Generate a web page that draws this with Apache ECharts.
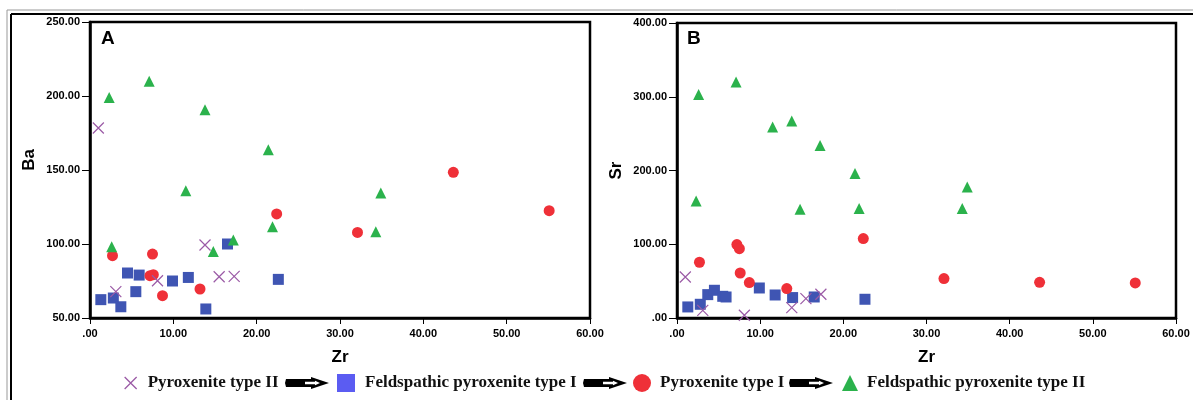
<!DOCTYPE html>
<html>
<head>
<meta charset="utf-8">
<script src="https://cdn.jsdelivr.net/npm/echarts@6/dist/echarts.min.js"></script>
<style>
html,body{margin:0;padding:0;background:#fff;}
#c{width:1193px;height:400px;}
</style>
</head>
<body>
<div id="c"></div>
<script>
// ---- Data ----
const seriesNames = ['Pyroxenite type II', 'Feldspathic pyroxenite type I', 'Pyroxenite type I', 'Feldspathic pyroxenite type II'];

// Pyroxenite type II (crosses)
const zrPxII = [1.0, 3.1, 8.1, 13.8, 15.5, 17.3];
const baPxII = [178.4, 67.8, 75.2, 99.3, 77.9, 78.1];
const srPxII = [55.6, 10.4, 3.7, 14.1, 26.3, 32.2];

// Feldspathic pyroxenite type I (squares)
const zrFpI = [1.3, 2.8, 3.7, 4.5, 5.5, 5.9, 9.9, 11.8, 13.9, 16.5, 22.6];
const baFpI = [62.4, 63.5, 57.6, 80.4, 67.8, 79.0, 75.0, 77.4, 56.1, 100.0, 76.1];
const srFpI = [15.0, 18.6, 31.7, 37.6, 29.4, 28.5, 40.7, 31.2, 27.7, 28.5, 25.4];

// Pyroxenite type I (circles)
const zrPxI = [2.7, 7.2, 7.5, 7.6, 8.7, 13.2, 22.4, 32.1, 43.6, 55.1];
const baPxI = [92.1, 78.6, 93.2, 79.3, 65.1, 69.6, 120.3, 107.8, 148.4, 122.5];
const srPxI = [75.6, 99.6, 94.0, 61.0, 48.0, 39.9, 107.7, 53.4, 48.4, 47.5];

// Feldspathic pyroxenite type II (triangles)
const zrFpII = [2.3, 2.6, 7.1, 11.5, 13.8, 14.8, 17.2, 21.4, 21.9, 34.3, 34.9];
const baFpII = [199.0, 98.2, 210.0, 136.0, 190.7, 95.0, 102.7, 163.7, 111.7, 108.3, 134.5];
const srFpII = [158.7, 303.0, 320.0, 259.0, 267.0, 147.5, 234.0, 196.0, 148.4, 148.4, 177.7];

const xTicks = [0, 10, 20, 30, 40, 50, 60];
const baTicks = [50, 100, 150, 200, 250];
const srTicks = [0, 100, 200, 300, 400];

// ---- Styling ----
const COL_X = '#9b5aa6', COL_SQ = '#3f55b3', COL_CI = '#ef3038', COL_TR = '#2bb24c';
const crossPath = 'path://M0,0L10,10M10,0L0,10';
const fmt = v => v === 0 ? '.00' : v.toFixed(2);
const tickFont = {fontFamily: '"Liberation Sans", Arial, sans-serif', fontWeight: 'bold', fontSize: 11, color: '#000'};
const nameFont = {fontFamily: '"Liberation Sans", Arial, sans-serif', fontWeight: 'bold', fontSize: 17, color: '#000'};

function zip(a, b) { return a.map((v, i) => [v, b[i]]); }

function xAxisDef(gi) {
  return {
    gridIndex: gi, type: 'value', min: xTicks[0], max: xTicks[xTicks.length - 1], interval: 10,
    name: 'Zr', nameLocation: 'middle', nameGap: 31, nameTextStyle: nameFont,
    axisLine: {show: true, lineStyle: {color: '#000', width: 2.5}},
    axisTick: {show: true, length: 6, lineStyle: {color: '#000', width: 1}},
    axisLabel: Object.assign({formatter: fmt, margin: 10}, tickFont),
    splitLine: {show: false}
  };
}
function yAxisDef(gi, ticks, name, gap, pad) {
  return {
    gridIndex: gi, type: 'value', min: ticks[0], max: ticks[ticks.length - 1], interval: ticks[1] - ticks[0],
    name: name, nameLocation: 'middle', nameGap: gap, nameRotate: 90,
    nameTextStyle: Object.assign({padding: pad}, nameFont),
    axisLine: {show: true, lineStyle: {color: '#000', width: 2.5}},
    axisTick: {show: true, length: 8, lineStyle: {color: '#000', width: 1}},
    axisLabel: Object.assign({formatter: fmt, margin: 10}, tickFont),
    splitLine: {show: false}
  };
}

function groupSeries(gi, yArrs) {
  return [
    {name: seriesNames[0], type: 'scatter', xAxisIndex: gi, yAxisIndex: gi, data: zip(zrPxII, yArrs[0]),
     symbol: crossPath, symbolSize: 11, itemStyle: {color: 'rgba(0,0,0,0)', borderColor: COL_X, borderWidth: 1.2, opacity: 1}, z: 3},
    {name: seriesNames[1], type: 'scatter', xAxisIndex: gi, yAxisIndex: gi, data: zip(zrFpI, yArrs[1]),
     symbol: 'rect', symbolSize: 11, itemStyle: {color: COL_SQ, opacity: 1}, z: 2},
    {name: seriesNames[2], type: 'scatter', xAxisIndex: gi, yAxisIndex: gi, data: zip(zrPxI, yArrs[2]),
     symbol: 'circle', symbolSize: 11, itemStyle: {color: COL_CI, opacity: 1}, z: 2},
    {name: seriesNames[3], type: 'scatter', xAxisIndex: gi, yAxisIndex: gi, data: zip(zrFpII, yArrs[3]),
     symbol: 'triangle', symbolSize: 11, itemStyle: {color: COL_TR, opacity: 1}, z: 2}
  ];
}

const legendFont = {fontFamily: '"Liberation Serif", "Times New Roman", serif', fontWeight: 'bold', fontSize: 17, color: '#111'};
function legendDef(i, left, icon, size, color, border, textPad) {
  return {
    left: left, top: 373, orient: 'horizontal', selectedMode: false, padding: 0,
    itemWidth: size, itemHeight: size, itemGap: 0,
    textStyle: Object.assign({padding: [0, 0, 0, textPad], lineHeight: 20}, legendFont),
    data: [{name: seriesNames[i], icon: icon,
            itemStyle: border ? {color: 'rgba(0,0,0,0)', borderColor: color, borderWidth: 1.3, opacity: 1} : {color: color, opacity: 1}}]
  };
}

function arrow(x, y) {
  // decorative black arrow between legend items
  return {
    type: 'group', left: x, top: y, silent: true,
    children: [
      {type: 'polygon', shape: {points: [[1, 1], [26, 1], [26, -1], [44, 5], [26, 11], [26, 9], [1, 9], [0, 5]]},
       style: {fill: '#000'}},
      {type: 'polygon', shape: {points: [[20, 3.8], [30, 3.8], [30, 2.8], [35, 5], [30, 7.2], [30, 6.2], [20, 6.2]]},
       style: {fill: '#fff'}}
    ]
  };
}

const chart = echarts.init(document.getElementById('c'), null, {renderer: 'canvas'});
chart.setOption({
  backgroundColor: '#fff',
  animation: false,
  grid: [
    {left: 90, top: 22, width: 500, height: 296, show: true, borderColor: '#000', borderWidth: 2.5, backgroundColor: '#fff'},
    {left: 677, top: 23, width: 499, height: 295, show: true, borderColor: '#000', borderWidth: 2.5, backgroundColor: '#fff'}
  ],
  xAxis: [xAxisDef(0), xAxisDef(1)],
  yAxis: [yAxisDef(0, baTicks, 'Ba', 52, [0, 0, 0, 20]), yAxisDef(1, srTicks, 'Sr', 52, [0, 0, 0, 0])],
  legend: [
    legendDef(0, 124, crossPath, 12, COL_X, true, 6),
    legendDef(1, 337, 'rect', 18, '#5b5cf2', false, 5),
    legendDef(2, 633, 'circle', 18, COL_CI, false, 4),
    legendDef(3, 842, 'triangle', 16, COL_TR, false, 4)
  ],
  series: groupSeries(0, [baPxII, baFpI, baPxI, baFpII]).concat(groupSeries(1, [srPxII, srFpI, srPxI, srFpII])),
  graphic: [
    {type: 'line', shape: {x1: 7, y1: 10, x2: 1193, y2: 10}, style: {stroke: '#999', lineWidth: 1}},
    {type: 'line', shape: {x1: 7, y1: 10, x2: 7, y2: 400}, style: {stroke: '#999', lineWidth: 1}},
    {type: 'line', shape: {x1: 11, y1: 14, x2: 1193, y2: 14}, style: {stroke: '#000', lineWidth: 2}},
    {type: 'line', shape: {x1: 11, y1: 14, x2: 11, y2: 400}, style: {stroke: '#000', lineWidth: 2}},
    {type: 'text', left: 101, top: 29, style: {text: 'A', font: 'bold 19px "Liberation Sans", Arial, sans-serif', fill: '#000'}},
    {type: 'text', left: 687, top: 29, style: {text: 'B', font: 'bold 19px "Liberation Sans", Arial, sans-serif', fill: '#000'}},
    arrow(285, 377),
    arrow(583, 377),
    arrow(789, 377)
  ]
});
</script>
</body>
</html>
